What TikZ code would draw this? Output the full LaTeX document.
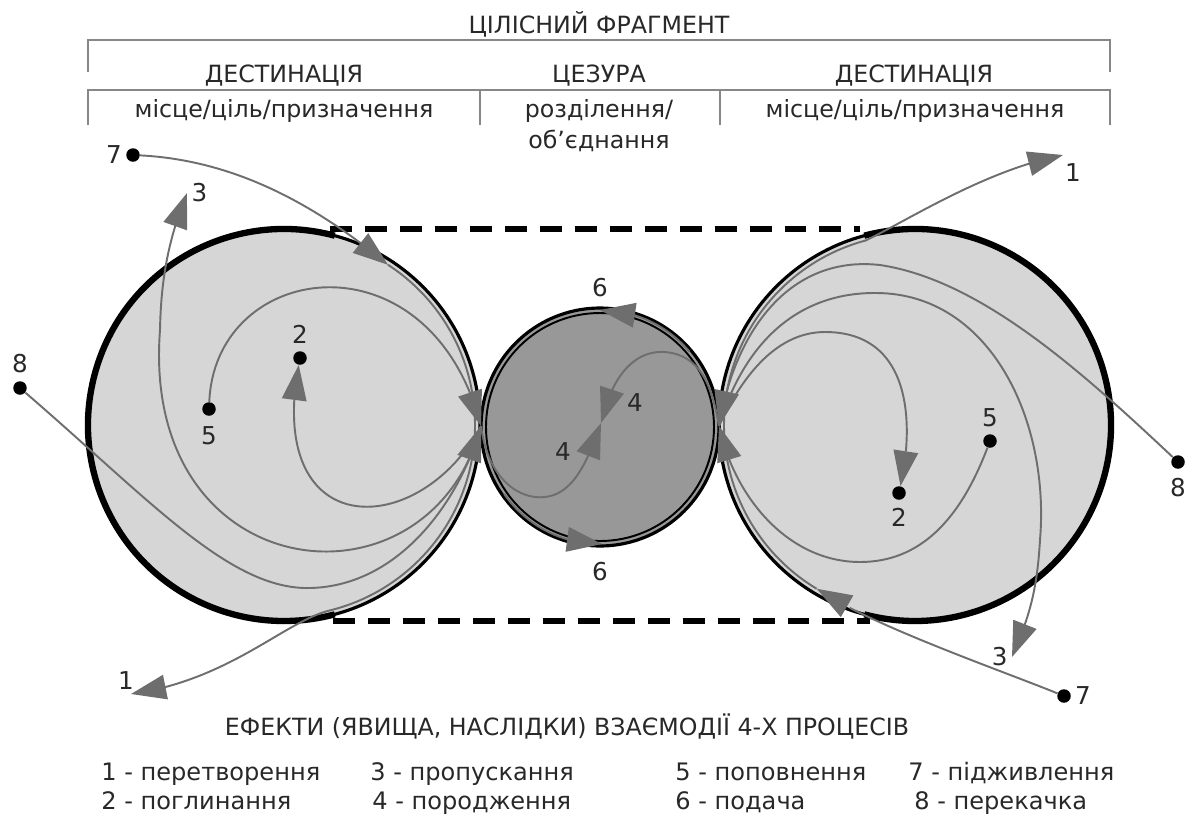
\documentclass[tikz,border=0pt]{standalone}
\usepackage{fontspec}
\setmainfont{DejaVu Sans}
\usepackage{tikz}
\usetikzlibrary{arrows.meta, bending, calc, positioning}
\definecolor{discgray}{RGB}{214, 214, 214}
\definecolor{cesuragray}{RGB}{152, 152, 152}
\definecolor{flowgray}{RGB}{110, 110, 110}
\definecolor{linegray}{RGB}{135, 135, 135}
\definecolor{textgray}{RGB}{40, 40, 40}

\begin{document}
\begin{tikzpicture}[
    x=0.02cm, y=-0.02cm,
    bigdisc/.style={circle, draw=black, line width=1.8pt, fill=discgray, minimum size=7.84cm, inner sep=0pt, outer sep=0pt},
    middisc/.style={circle, draw=black, line width=1.8pt, fill=cesuragray, minimum size=4.76cm, inner sep=0pt, outer sep=0pt},
    rimthick/.style={draw=black, line width=3.6pt},
    ring/.style={draw=black, line width=1.1pt},
    envelope/.style={draw=black, line width=3.4pt, dash pattern=on 12.5pt off 7.4pt},
    flow/.style={draw=flowgray, line width=1.1pt},
    flowarrow/.style={flow, -{Triangle[length=20pt, width=14pt]}},
    pointdot/.style={circle, fill=black, inner sep=0pt, minimum size=0.27cm},
    num/.style={font=\fontsize{14}{16}\selectfont, text=textgray, inner sep=1pt},
    headline/.style={font=\fontsize{13.5}{16}\selectfont, text=textgray, inner sep=0pt},
    legendtext/.style={anchor=base west, font=\fontsize{13.7}{16}\selectfont, text=textgray, inner sep=0pt},
    bracket/.style={draw=linegray, line width=0.8pt}
]
    \useasboundingbox (0,0) rectangle (1190,819);

    % Header
    \node[headline, anchor=base] (whole) at (599,33) {ЦІЛІСНИЙ ФРАГМЕНТ};
    \draw[bracket] (88,72) |- (1110,40) -- (1110,72);
    \node[headline, anchor=base] (destL) at (284,82) {ДЕСТИНАЦІЯ};
    \node[headline, anchor=base] (cesura) at (599,82) {ЦЕЗУРА};
    \node[headline, anchor=base] (destR) at (914,82) {ДЕСТИНАЦІЯ};
    \draw[bracket] (88,125) |- (1110,90) -- (1110,125);
    \draw[bracket] (480,90) -- (480,125);
    \draw[bracket] (720,90) -- (720,125);
    \node[headline, anchor=base] (placeL) at (284,117) {місце/ціль/призначення};
    \node[headline, anchor=base] (split) at (599,117) {розділення/};
    \node[headline, anchor=base] (join) at (599,148) {об’єднання};
    \node[headline, anchor=base] (placeR) at (915,117) {місце/ціль/призначення};

    % Discs
    \node[bigdisc] (L) at (284,425) {};
    \node[bigdisc] (R) at (915,425) {};
    \node[middisc] (M) at (600,427) {};
    \draw[rimthick] ($(L.center)+(-75:196)$) arc[start angle=-75, end angle=-285, radius=196];
    \draw[rimthick] ($(R.center)+(-105:196)$) arc[start angle=-105, end angle=105, radius=196];
    \draw[ring] (M.center) circle[radius=114];

    % Envelope
    \draw[envelope, shorten <=0.92cm, shorten >=1.1cm] (L.north) -- (R.north);
    \draw[envelope, shorten <=0.98cm, shorten >=0.9cm] (L.south) -- (R.south);

    % Contact points
    \coordinate (cL) at (481,426);
    \coordinate (cR) at (719,426);
    \coordinate (rimL) at ($(L.center)+(0:191)$);
    \coordinate (rimR) at ($(R.center)+(180:191)$);

    % Left destination
    \node[pointdot] (sevenL) at (133,155) {};
    \node[pointdot] (fiveL) at (209,409) {};
    \node[pointdot] (twoL) at (300,358) {};
    \node[pointdot] (eightL) at (20,388) {};
    \coordinate (tipSevenL) at ($(L.center)+(-57:191)$);
    \coordinate (tipThreeL) at (187,193);
    \coordinate (tipOneL) at (131,694);
    \draw[flowarrow] (sevenL) .. controls (230,160) and (310,200) .. (tipSevenL);
    \draw[flow] (tipSevenL) arc[start angle=-57, end angle=0, radius=191];
    \draw[flowarrow] (fiveL) .. controls (215,260) and (430,230) .. (cL);
    \draw[flowarrow] (eightL) .. controls (150,500) and (230,590) .. (310,588) .. controls (400,586) and (460,500) .. (cL);
    \draw[flowarrow] (cL) .. controls (420,540) and (265,545) .. (twoL);
    \draw[flowarrow] (cL) .. controls (430,620) and (140,590) .. (160,330) .. controls (161,280) and (168,240) .. (tipThreeL);
    \draw[flowarrow] (rimL) arc[start angle=0, end angle=76, radius=191] .. controls (285,621) and (230,680) .. (tipOneL);
    \node[num, left=0.04cm of sevenL] {7};
    \node[num, right=0.05cm of tipThreeL] {3};
    \node[num, above=0.11cm of twoL] {2};
    \node[num, below=0.17cm of fiveL] {5};
    \node[num, above=0.11cm of eightL] {8};
    \node[num] at (126,681) {1};

    % Cesura
    \coordinate (tipFour) at (601,423);
    \coordinate (feedTop) at ($(M.center)+(-40:117)$);
    \coordinate (feedBottom) at ($(M.center)+(145:117)$);
    \draw[flowarrow] (cL) .. controls (488,480) and (520,500) .. (545,497) .. controls (570,494) and (585,470) .. (tipFour);
    \draw[flowarrow] (cR) .. controls (712,385) and (700,355) .. (665,352) .. controls (635,350) and (612,375) .. (tipFour);
    \draw[flowarrow] (feedTop) arc[start angle=-40, end angle=-90, radius=117];
    \draw[flowarrow] (feedBottom) arc[start angle=145, end angle=89, radius=117];
    \node[num, above=0.18cm of M] {6};
    \node[num, below=0.28cm of M] {6};
    \node[num] at (635,403) {4};
    \node[num] at (563,452) {4};

    % Right destination
    \node[pointdot] (sevenR) at (1064,696) {};
    \node[pointdot] (fiveR) at (990,441) {};
    \node[pointdot] (twoR) at (899,493) {};
    \node[pointdot] (eightR) at (1178,462) {};
    \coordinate (tipSevenR) at ($(R.center)+(121:191)$);
    \coordinate (tipThreeR) at (1012,657);
    \coordinate (tipOneR) at (1063,155);
    \draw[flowarrow] (sevenR) .. controls (1000,670) and (870,625) .. (tipSevenR);
    \draw[flow] (tipSevenR) arc[start angle=121, end angle=180, radius=191];
    \draw[flowarrow] (rimR) arc[start angle=180, end angle=255, radius=191] .. controls (905,222) and (985,170) .. (tipOneR);
    \draw[flowarrow] (cR) .. controls (745,370) and (780,332) .. (825,332) .. controls (910,332) and (915,420) .. (twoR);
    \draw[flowarrow] (fiveR) .. controls (960,520) and (920,562) .. (860,562) .. controls (790,562) and (735,500) .. (cR);
    \draw[flowarrow] (cR) .. controls (745,340) and (800,292) .. (877,293) .. controls (990,294) and (1050,420) .. (1040,540) .. controls (1037,590) and (1030,615) .. (tipThreeR);
    \draw[flowarrow] (eightR) .. controls (1080,370) and (980,280) .. (880,265) .. controls (790,255) and (735,330) .. (cR);
    \node[num, right=0.04cm of sevenR] {7};
    \node[num, above=0.09cm of fiveR] {5};
    \node[num, below=0.13cm of twoR] {2};
    \node[num, below=0.15cm of eightR] {8};
    \node[num, left=0.05cm of tipThreeR] {3};
    \node[num, below right=0.12cm and 0cm of tipOneR] {1};

    % Legend
    \node[headline, anchor=base] (effects) at (567,735) {ЕФЕКТИ (ЯВИЩА, НАСЛІДКИ) ВЗАЄМОДІЇ 4-Х ПРОЦЕСІВ};
    \node[legendtext] (lgOne) at (101,780) {1 - перетворення};
    \node[legendtext] (lgThree) at (370,780) {3 - пропускання};
    \node[legendtext] (lgFive) at (675,780) {5 - поповнення};
    \node[legendtext] (lgSeven) at (908,780) {7 - підживлення};
    \node[legendtext] (lgTwo) at (101,809) {2 - поглинання};
    \node[legendtext] (lgFour) at (372,809) {4 - породження};
    \node[legendtext] (lgSix) at (675,809) {6 - подача};
    \node[legendtext] (lgEight) at (914,809) {8 - перекачка};
\end{tikzpicture}
\end{document}
